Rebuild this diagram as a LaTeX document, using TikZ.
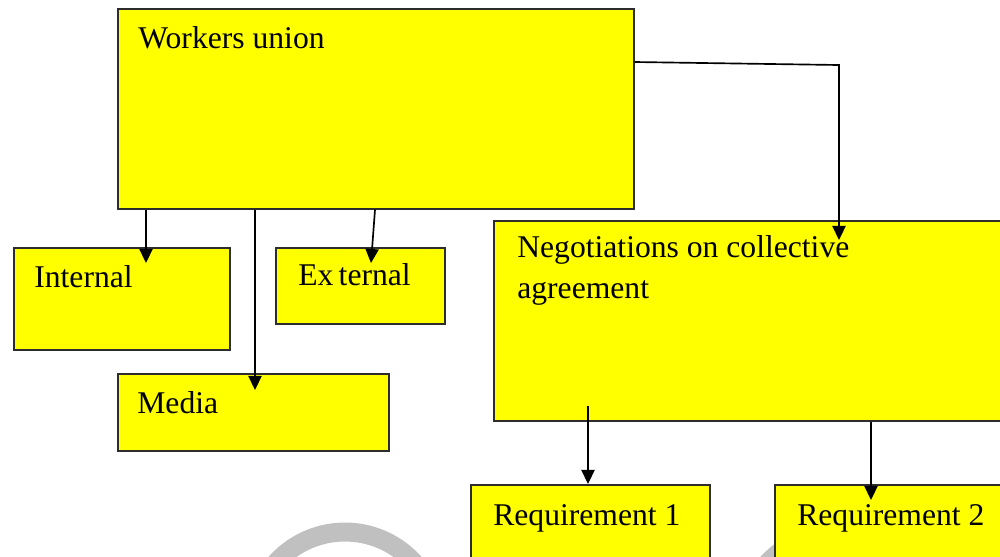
\documentclass[tikz,border=0pt]{standalone}
\usepackage{fontspec}
\setmainfont{Liberation Serif}
\usepackage{tikz}
\usetikzlibrary{arrows.meta, positioning, calc}
\definecolor{boxyellow}{RGB}{255, 255, 0}
\definecolor{boxline}{RGB}{45, 45, 45}
\definecolor{markgray}{RGB}{192, 192, 192}

\begin{document}
\begin{tikzpicture}[x=0.02cm, y=-0.02cm, >={Triangle[length=8pt, width=7.5pt]},
    box/.style={draw=boxline, line width=1pt, fill=boxyellow, rectangle, anchor=north west, inner sep=0pt},
    lbl/.style={anchor=base west, inner sep=0pt, font=\fontsize{18}{23}\selectfont},
    arr/.style={->, line width=0.95pt}]
  \useasboundingbox (0,0) rectangle (1000,556);
  \clip (0,0) rectangle (1000,556);

  % faint rings behind the boxes
  \draw[markgray, line width=10.8pt] (345,625) circle[radius=1.86cm];
  \draw[markgray, line width=10.8pt] (836,626) circle[radius=1.86cm];

  \node[box, minimum width=10.32cm, minimum height=4cm] (wu) at (117,8) {};
  \node[box, minimum width=4.32cm, minimum height=2.04cm] (int) at (13,247) {};
  \node[box, minimum width=3.38cm, minimum height=1.52cm] (ext) at (275,247) {};
  \node[box, minimum width=5.42cm, minimum height=1.54cm] (med) at (117,373) {};
  \node[box, minimum width=10.6cm, minimum height=4cm] (neg) at (493,220) {};
  \node[box, minimum width=4.78cm, minimum height=2cm] (req1) at (470,484) {};
  \node[box, minimum width=4.8cm, minimum height=2cm] (req2) at (774,484) {};

  \node[lbl] (wuText) at (138,48) {Workers union};
  \node[lbl] (intText) at (34,287) {Internal};
  \node[lbl] (extText) at (298,285) {Ex\,ternal};
  \node[lbl] (medText) at (137,413) {Media};
  \node[lbl] (negText) at (517,257) {Negotiations on collective};
  \node[lbl] (negText2) at (517,298) {agreement};
  \node[lbl] (req1Text) at (493,525) {Requirement 1};
  \node[lbl] (req2Text) at (797,525) {Requirement 2};

  \coordinate (intTip) at (146,263);
  \coordinate (medTip) at (255,390);
  \coordinate (extTip) at (371,263);
  \coordinate (negTip) at (839,240);
  \coordinate (r1Foot) at (588,406);
  \coordinate (r2Tip) at (871,500);

  \draw[arr] (wu.south -| intTip) -- (intTip);
  \draw[arr] (wu.south -| medTip) -- (medTip);
  \draw[arr] ($(wu.south -| extTip)+(4,0)$) -- (extTip);
  \draw[arr] ($(wu.north east)+(0,54)$) -- ($(negTip |- wu.north)+(0,57)$) -- (negTip);
  \draw[arr] (r1Foot) -- (r1Foot |- req1.north);
  \draw[arr] (neg.south -| r2Tip) -- (r2Tip);
\end{tikzpicture}
\end{document}
